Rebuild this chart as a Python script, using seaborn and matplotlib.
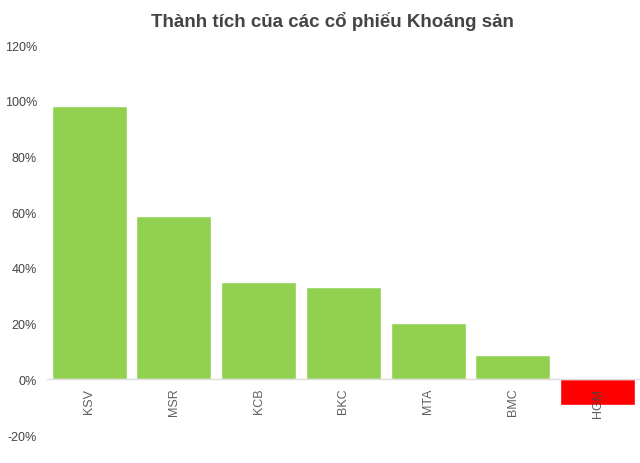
import matplotlib
matplotlib.use("Agg")
import matplotlib.pyplot as plt
import seaborn as sns
import pandas as pd

# Data (percent)
tickers = ["KSV", "MSR", "KCB", "BKC", "MTA", "BMC", "HGM"]
returns = [98.0, 58.6, 34.9, 33.1, 20.2, 8.6, -9.2]
colors = ["#92d050" if v >= 0 else "#ff0000" for v in returns]

df = pd.DataFrame({"ticker": tickers, "ret": returns})

sns.set_theme(style="white")
plt.rcParams["font.family"] = ["Liberation Sans", "DejaVu Sans"]

fig = plt.figure(figsize=(6.4, 4.64), dpi=100)
ax = fig.add_axes([0.073, 0.0603, 0.927, 0.8405])

sns.barplot(data=df, x="ticker", y="ret", hue="ticker",
            palette=colors, legend=False, width=0.886,
            saturation=1, ax=ax)

ax.set_ylim(-20, 120)
ax.set_xlim(-0.5, len(tickers) - 0.5)
ax.set_yticks(range(-20, 121, 20))
ax.set_yticklabels([f"{t}%" for t in range(-20, 121, 20)],
                   fontsize=9, color="#444444")
ax.tick_params(axis="y", length=0, pad=7)

# x axis line drawn at zero, labels just below it (on top of the bars)
for s in ["top", "right", "left"]:
    ax.spines[s].set_visible(False)
ax.spines["bottom"].set_position(("data", 0))
ax.spines["bottom"].set_color("#dddddd")
ax.spines["bottom"].set_linewidth(1)
ax.xaxis.set_zorder(5)
ax.tick_params(axis="x", length=0, pad=6)
plt.setp(ax.get_xticklabels(), rotation=90, fontsize=9, color="#444444",
         alpha=0.85)
ax.set_xlabel("")
ax.set_ylabel("")

fig.suptitle("Thành tích của các cổ phiếu Khoáng sản", x=0.52, y=0.975,
             fontsize=13.5, fontweight="bold", color="#444444")

fig.savefig("out.png", dpi=100)
